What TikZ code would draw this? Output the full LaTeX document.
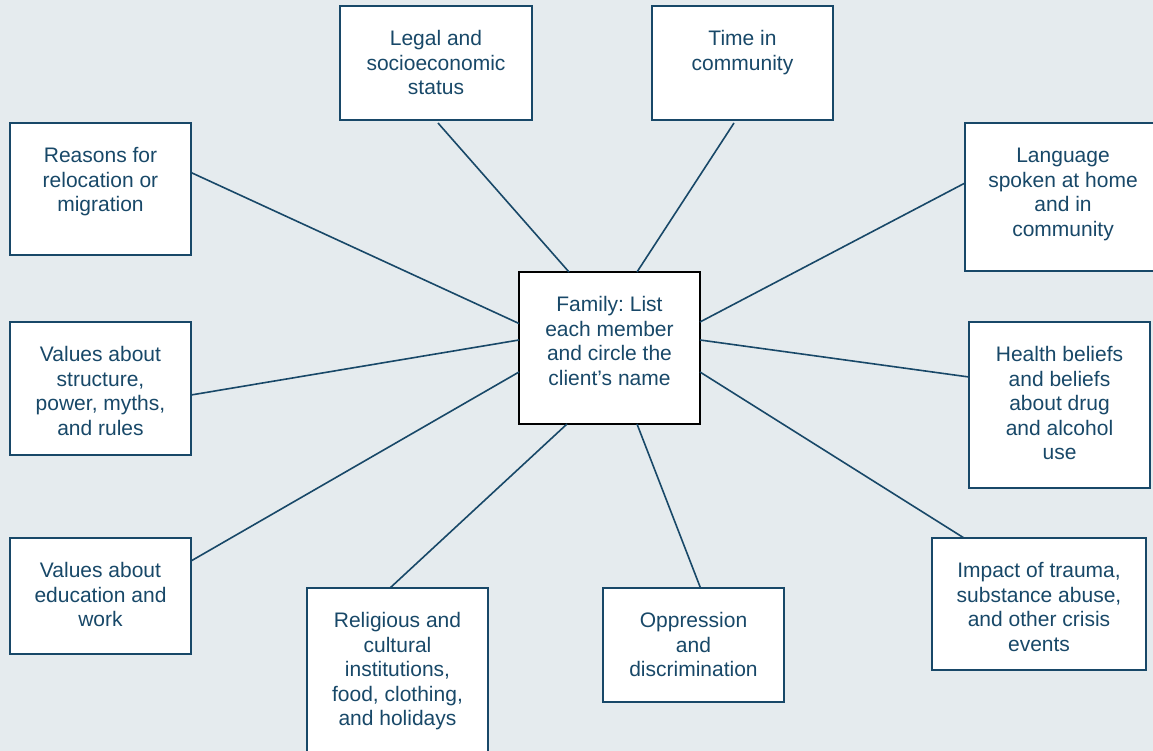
\documentclass[tikz,border=0pt]{standalone}
\usepackage{fontspec}
\setmainfont{Liberation Sans}
\frenchspacing
\definecolor{navy}{RGB}{24,72,104}
\definecolor{paper}{RGB}{229,235,238}
% top-aligned multi-line label inside a fixed-size box (width, height, text)
\newcommand\boxlabel[3]{\parbox[c][#2pt][t]{#1pt}{\centering\vspace*{22.8pt}\strut#3\par}}
\begin{document}
\begin{tikzpicture}[x=1pt,y=-1pt,
  every node/.style={inner sep=0pt,outer sep=0pt,font=\fontsize{21}{24.5}\selectfont,text=navy},
  topic/.style={draw=navy,line width=2pt,fill=white},
  hub/.style={draw=black,line width=2.6pt,fill=white},
  spoke/.style={draw=navy,line width=1.6pt}]
  \fill[paper] (0,0) rectangle (1153,751);
  \useasboundingbox (0,0) rectangle (1153,751);
  \clip (0,0) rectangle (1153,751);

  % central node
  \node[hub] (fam) at (609.5,348) {\boxlabel{181}{152}{Family: List\\each member\\and circle the\\client’s name}};

  % surrounding topics
  \node[topic] (legal) at (436,63) {\boxlabel{192}{114}{Legal and\\socioeconomic\\status}};
  \node[topic] (time) at (742.5,63) {\boxlabel{181}{114}{Time in\\community}};
  \node[topic] (reasons) at (100.5,189) {\boxlabel{181}{132}{Reasons for\\relocation or\\migration}};
  \node[topic] (lang) at (1063,197) {\boxlabel{196}{148}{Language\\spoken at home\\and in\\community}};
  \node[topic] (struct) at (100.5,388.5) {\boxlabel{181}{133}{Values about\\structure,\\power, myths,\\and rules}};
  \node[topic] (health) at (1059.5,405) {\boxlabel{181}{166}{Health beliefs\\and beliefs\\about drug\\and alcohol\\use}};
  \node[topic] (edu) at (100.5,596) {\boxlabel{181}{116}{Values about\\education and\\work}};
  \node[topic] (impact) at (1039,604) {\boxlabel{214}{132}{Impact of trauma,\\substance abuse,\\and other crisis\\events}};
  \node[topic] (relig) at (397.5,674) {\boxlabel{181}{172}{Religious and\\cultural\\institutions,\\food, clothing,\\and holidays}};
  \node[topic] (oppr) at (693.5,645) {\boxlabel{181}{114}{Oppression\\and\\discrimination}};

  % spokes from each topic to the centre
  \draw[spoke] ([xshift=2,yshift=-3]legal.south) -- ([xshift=-40.5]fam.north);
  \draw[spoke] ([xshift=-8.5,yshift=-3]time.south) -- ([xshift=27.5]fam.north);
  \draw[spoke] ([yshift=16.5]reasons.east) -- ([yshift=24.5]fam.west);
  \draw[spoke] ([yshift=14]lang.west) -- ([yshift=26]fam.east);
  \draw[spoke] ([yshift=-6.5]struct.east) -- ([yshift=8]fam.west);
  \draw[spoke] ([yshift=28]health.west) -- ([yshift=8]fam.east);
  \draw[spoke] ([yshift=35]edu.east) -- ([yshift=-24]fam.west);
  \draw[spoke] ([xshift=-75]impact.north) -- ([yshift=-24]fam.east);
  \draw[spoke] ([xshift=-7.5]relig.north) -- ([xshift=-42.5]fam.south);
  \draw[spoke] ([xshift=7]oppr.north) -- ([xshift=27.5]fam.south);
\end{tikzpicture}
\end{document}
